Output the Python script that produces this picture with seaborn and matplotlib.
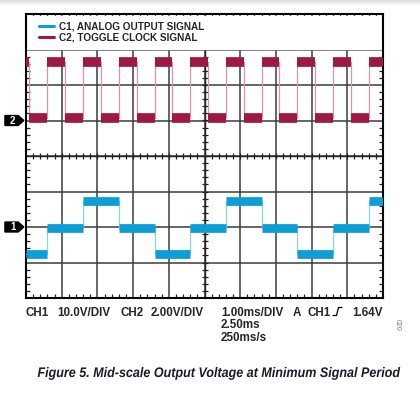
import matplotlib.pyplot as plt
import numpy as np
import pandas as pd
import seaborn as sns
from matplotlib import patheffects
from matplotlib.lines import Line2D
from matplotlib.patches import Polygon
from matplotlib.transforms import Affine2D

# scope screen is 10 x 8 divisions, time in ms (1 ms/div)
# CH2 toggle clock: edge times and level (in divisions from bottom) after each edge
clock_edges = [0.0, 0.08, 0.6, 1.1, 1.6, 2.1, 2.6, 3.1, 3.6, 4.1, 4.6, 5.1,
               5.6, 6.1, 6.6, 7.1, 7.6, 8.1, 8.6, 9.1, 9.6]
clock_levels = [6.64, 5.06, 6.64, 5.06, 6.64, 5.06, 6.64, 5.06, 6.64, 5.06, 6.64,
                5.06, 6.64, 5.06, 6.64, 5.06, 6.64, 5.06, 6.64, 5.06, 6.64]

# CH1 analog output: steps on every clock rising edge
analog_edges = [0.0, 0.6, 1.6, 2.6, 3.6, 4.6, 5.6, 6.6, 7.6, 8.6, 9.6]
analog_levels = [1.25, 1.96, 2.73, 1.96, 1.25, 1.96, 2.73, 1.96, 1.25, 1.96, 2.73]

ch1_ref = 2.0
ch2_ref = 5.0
labels = ["C1, ANALOG OUTPUT SIGNAL", "C2, TOGGLE CLOCK SIGNAL"]

blue = "#0b9fd6"
blue_light = "#8fd0ee"
red = "#9e1a42"
red_light = "#d995ab"


class Squeeze(patheffects.AbstractPathEffect):
    # narrow the glyphs horizontally around a pixel x (no condensed font installed)
    def __init__(self, sx, cx):
        super().__init__()
        self.sx = sx
        self.cx = cx

    def draw_path(self, renderer, gc, tpath, affine, rgbFace=None):
        squeeze = Affine2D().translate(-self.cx, 0).scale(self.sx, 1).translate(self.cx, 0)
        renderer.draw_path(gc, tpath, affine + squeeze, rgbFace)


sns.set_style("white")
plt.rcParams['font.family'] = ['Liberation Sans', 'DejaVu Sans']

fig = plt.figure(figsize=(4.2, 3.98), dpi=100)
ax = fig.add_axes([26 / 420, 100 / 398, 357 / 420, 284 / 398])


def trace(edges, levels, color, light, lw):
    x = list(edges) + [10.0]
    y = list(levels) + [levels[-1]]
    df = pd.DataFrame({"t": x, "v": y})
    sns.lineplot(data=df, x="t", y="v", ax=ax, drawstyle="steps-post",
                 color=light, lw=0.9, sort=False, legend=False, zorder=3)
    ax.hlines(levels, x[:-1], x[1:], colors=color, lw=lw, zorder=4)


trace(clock_edges, clock_levels, red, red_light, 7.0)
trace(analog_edges, analog_levels, blue, blue_light, 6.3)

ax.set_xlim(0, 10)
ax.set_ylim(0, 8)
ax.set_xlabel("")
ax.set_ylabel("")
ax.set_xticks(range(11))
ax.set_yticks(range(9))
ax.set_xticklabels([])
ax.set_yticklabels([])
ax.grid(True, color="#3c3c3c", lw=1.1)
ax.set_axisbelow(True)
ax.xaxis.set_minor_locator(plt.MultipleLocator(0.2))
ax.yaxis.set_minor_locator(plt.MultipleLocator(0.2))
ax.tick_params(which="major", length=0)
ax.tick_params(which="minor", direction="in", length=2.6, width=0.9, color="#222",
               top=True, bottom=True, left=True, right=True)
for s in ax.spines.values():
    s.set_color("black")
    s.set_linewidth(1.5)

# center graticule with minor ticks
ax.axhline(4, color="#222", lw=1.0, zorder=1)
ax.axvline(5, color="#222", lw=1.0, zorder=1)
tk = np.arange(0.2, 10, 0.2)
ax.plot(tk, np.full_like(tk, 4.0), ls="none", marker="|", ms=5, mew=0.9, color="#222", zorder=2)
tk = np.arange(0.2, 8, 0.2)
ax.plot(np.full_like(tk, 5.0), tk, ls="none", marker="_", ms=5, mew=0.9, color="#222", zorder=2)

# white legend area at top of screen
ax.fill_between([0, 10], 7.02, 7.95, color="white", zorder=2)
handles = [Line2D([], [], color=blue, lw=2.2), Line2D([], [], color=red, lw=2.2)]
ax.legend(handles, labels, loc="upper left", bbox_to_anchor=(0.012, 1.005), frameon=False,
          handlelength=1.5, handletextpad=0.5, labelspacing=0.12,
          prop={"weight": "bold", "size": 7.2})

# channel reference markers
for ref, name in [(ch1_ref, "1"), (ch2_ref, "2")]:
    h = 0.14
    pts = [(-0.59, ref - h), (-0.22, ref - h), (-0.06, ref), (-0.22, ref + h), (-0.59, ref + h)]
    ax.add_patch(Polygon(pts, closed=True, fc="black", ec="black", clip_on=False, zorder=6))
    ax.text(-0.37, ref, name, color="white", fontsize=7, fontweight="bold",
            ha="center", va="center", clip_on=False, zorder=7)

# scope settings text (x pixel, baseline pixel, text)
settings = [(26, 316, "CH1"), (57, 316, "10.0V/DIV"), (121, 316, "CH2"), (151, 316, "2.00V/DIV"),
            (221, 316, "1.00ms/DIV"), (293, 316, "A"), (307, 316, "CH1"), (352, 316, "1.64V"),
            (221, 328.5, "2.50ms"), (221, 341, "250ms/s")]
for px, py, s in settings:
    fig.text(px / 420, 1 - py / 398, s, fontsize=8.4, fontweight="bold",
             va="baseline", ha="left")
# trigger slope symbol
fig.add_artist(Line2D(np.array([333, 336.5, 338.5, 342]) / 420,
                      1 - np.array([315.5, 315.5, 307.5, 307.5]) / 398,
                      color="black", lw=0.9))
fig.text(397 / 420, 1 - 325 / 398, "020", fontsize=5, color="#777", rotation=270,
         va="center", ha="center")

# caption: anchored so its full box fits, squeezed to sit centered at x=219
fig.text(210 / 420, 1 - 377 / 398, "Figure 5. Mid-scale Output Voltage at Minimum Signal Period",
         fontsize=10.0, fontweight="bold", style="italic", color="#1c1c2e",
         ha="center", va="baseline", path_effects=[Squeeze(0.903, 302.8)])

# grey shading along the top edge
sh = fig.add_axes([0, 1 - 6 / 398, 1, 6 / 398])
sh.imshow(np.linspace(0.86, 1.0, 8).reshape(-1, 1), cmap="gray", vmin=0, vmax=1,
          aspect="auto", extent=(0, 1, 0, 1))
sh.axis("off")

fig.savefig("out.png", dpi=100)
